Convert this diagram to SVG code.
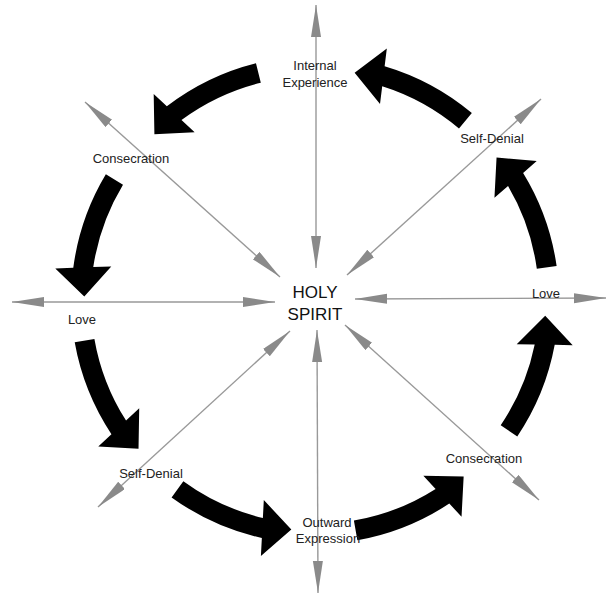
<svg xmlns="http://www.w3.org/2000/svg" xmlns:xlink="http://www.w3.org/1999/xlink" width="608" height="595" viewBox="0 0 608 595">
<style>
.ray{stroke:#999;stroke-width:1.4;fill:none;marker-start:url(#gh);marker-end:url(#gh)}
.lbl{font-family:"Liberation Sans",Arial,sans-serif;font-size:13px;fill:#222;text-anchor:middle}
.hs{font-family:"Liberation Sans",Arial,sans-serif;font-size:17px;fill:#111;text-anchor:middle}
.ca{fill:#000}
</style>
<defs>
<marker id="gh" markerUnits="userSpaceOnUse" markerWidth="34" markerHeight="12" refX="32" refY="5" orient="auto-start-reverse" viewBox="0 0 34 12">
<path d="M0,0 L32,5 L0,10 Z" fill="#8a8a8a"/>
</marker>
<path id="carrow" d="M211.31,122 A244,244 0 0 0 242.25,27.98 L260.22,27.05 L230.74,-0.44 L204.3,29.99 L222.27,29.06 A224,224 0 0 1 193.99,112 Z"/>
</defs>
<rect width="608" height="595" fill="#fff"/>
<g id="connectors">
<line class="ray" x1="316" y1="268" x2="316" y2="5"/>
<line class="ray" x1="317" y1="330" x2="318" y2="593"/>
<line class="ray" x1="275" y1="302" x2="12" y2="302"/>
<line class="ray" x1="355" y1="299" x2="606" y2="298"/>
<line class="ray" x1="280" y1="277" x2="85" y2="102"/>
<line class="ray" x1="347" y1="275" x2="541" y2="99"/>
<line class="ray" x1="290" y1="331" x2="98" y2="507"/>
<line class="ray" x1="345" y1="325" x2="539" y2="500"/>
</g>
<g id="cycle-arrows">
<use class="ca" xlink:href="#carrow" href="#carrow" transform="translate(315 300) rotate(226)"/>
<use class="ca" xlink:href="#carrow" href="#carrow" transform="translate(315 300) rotate(181)"/>
<use class="ca" xlink:href="#carrow" href="#carrow" transform="translate(315 300) rotate(140)"/>
<use class="ca" xlink:href="#carrow" href="#carrow" transform="translate(315 300) rotate(96)"/>
<use class="ca" xlink:href="#carrow" href="#carrow" transform="translate(315 300) rotate(50)"/>
<use class="ca" xlink:href="#carrow" href="#carrow" transform="translate(315 300) rotate(4)"/>
<use class="ca" xlink:href="#carrow" href="#carrow" transform="translate(315 300) rotate(-38)"/>
<use class="ca" xlink:href="#carrow" href="#carrow" transform="translate(315 300) rotate(-80)"/>
</g>
<g id="holy-spirit"><text class="hs" x="315" y="298">HOLY</text><text class="hs" x="315" y="320">SPIRIT</text></g>
<g id="internal-experience"><text class="lbl" x="315" y="70">Internal</text><text class="lbl" x="315" y="87">Experience</text></g>
<g id="consecration-left"><text class="lbl" x="131" y="163">Consecration</text></g>
<g id="love-left"><text class="lbl" x="82" y="324">Love</text></g>
<g id="self-denial-left"><text class="lbl" x="151" y="478">Self-Denial</text></g>
<g id="outward-expression"><text class="lbl" x="327" y="527">Outward</text><text class="lbl" x="328" y="543">Expression</text></g>
<g id="consecration-right"><text class="lbl" x="484" y="463">Consecration</text></g>
<g id="love-right"><text class="lbl" x="546" y="298">Love</text></g>
<g id="self-denial-right"><text class="lbl" x="492" y="143">Self-Denial</text></g>
</svg>
